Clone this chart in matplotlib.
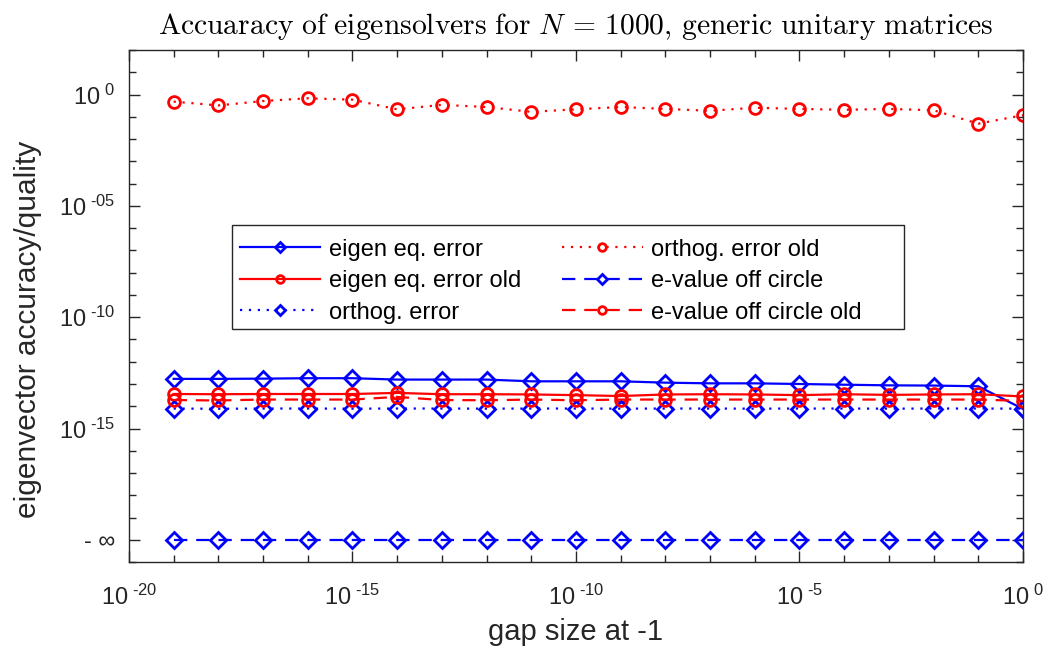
import numpy as np
import matplotlib
matplotlib.use('Agg')
import matplotlib.pyplot as plt
from matplotlib.patches import Rectangle
from matplotlib.ticker import FixedLocator, FixedFormatter, NullFormatter

plt.rcParams['font.family'] = ['Liberation Sans', 'DejaVu Sans']
plt.rcParams['mathtext.fontset'] = 'custom'
plt.rcParams['mathtext.rm'] = 'Liberation Sans'
plt.rcParams['mathtext.it'] = 'Liberation Sans:italic'

# gap size at -1
gap = [1e-19, 1e-18, 1e-17, 1e-16, 1e-15, 1e-14, 1e-13, 1e-12, 1e-11, 1e-10,
       1e-9, 1e-8, 1e-7, 1e-6, 1e-5, 1e-4, 1e-3, 1e-2, 1e-1, 1e0]

eig_err = [1.70e-13, 1.70e-13, 1.74e-13, 1.82e-13, 1.82e-13, 1.58e-13, 1.58e-13, 1.58e-13, 1.32e-13, 1.32e-13,
           1.32e-13, 1.15e-13, 1.07e-13, 1.07e-13, 1.00e-13, 9.3e-14, 8.7e-14, 8.5e-14, 7.9e-14, 7.6e-15]
eig_err_old = [3.55e-14, 3.47e-14, 3.55e-14, 3.55e-14, 3.55e-14, 3.98e-14, 3.47e-14, 3.47e-14, 3.39e-14, 3.16e-14,
               2.88e-14, 3.39e-14, 3.47e-14, 3.39e-14, 3.16e-14, 3.47e-14, 3.24e-14, 3.39e-14, 3.47e-14, 2.75e-14]
orth_err = [7.9e-15, 7.7e-15, 7.9e-15, 7.9e-15, 7.8e-15, 7.9e-15, 7.9e-15, 7.8e-15, 7.9e-15, 7.9e-15,
            7.8e-15, 7.9e-15, 7.9e-15, 7.8e-15, 7.9e-15, 7.9e-15, 7.8e-15, 7.9e-15, 7.9e-15, 7.8e-15]
orth_err_old = [0.49, 0.33, 0.52, 0.69, 0.60, 0.22, 0.35, 0.28, 0.17, 0.22,
                0.28, 0.23, 0.19, 0.26, 0.23, 0.21, 0.23, 0.20, 0.050, 0.12]
ev_off = [0.0] * 20   # exactly on the circle -> shown as -inf
ev_off_old = [1.90e-14, 1.82e-14, 2.00e-14, 2.00e-14, 2.00e-14, 2.63e-14, 1.90e-14, 1.86e-14, 2.00e-14, 1.86e-14,
              2.00e-14, 2.00e-14, 2.00e-14, 2.00e-14, 2.00e-14, 2.00e-14, 2.00e-14, 2.00e-14, 2.00e-14, 1.74e-14]

NEG_INF = 1e-20  # where zeros are drawn


def show(v):
    v = np.asarray(v, dtype=float)
    return np.where(v == 0, NEG_INF, v)


fig = plt.figure(figsize=(10.45, 6.52), dpi=100)
ax = fig.add_axes([0.1234, 0.138, 0.8555, 0.785])

lw = 1.6
dot = (0, (1, 3))
dash = (0, (6, 4))
st_d = dict(marker='D', markersize=8, markeredgewidth=2, markerfacecolor='none', lw=lw)
st_o = dict(marker='o', markersize=8.5, markeredgewidth=2, markerfacecolor='none', lw=lw)

ax.plot(gap, show(eig_err), color='blue', ls='-', label='eigen eq. error', **st_d)
ax.plot(gap, show(eig_err_old), color='red', ls='-', label='eigen eq. error old', **st_o)
ax.plot(gap, show(orth_err), color='blue', ls=dot, label='orthog. error', **st_d)
ax.plot(gap, show(orth_err_old), color='red', ls=dot, label='orthog. error old', **st_o)
ax.plot(gap, show(ev_off), color='blue', ls=dash, label='e-value off circle', **st_d)
ax.plot(gap, show(ev_off_old), color='red', ls=dash, label='e-value off circle old', **st_o)

ax.set_xscale('log')
ax.set_yscale('log')
ax.set_xlim(1e-20, 1e0)
ax.set_ylim(1e-21, 1e2)


def sup(e):
    return r'$\mathrm{10}^{\ \text{' + e + '}}$'


xt = [1e-20, 1e-15, 1e-10, 1e-5, 1e0]
xl = [sup('-20'), sup('-15'), sup('-10'), sup('-5'), sup('0')]
yt = [1e-20, 1e-15, 1e-10, 1e-5, 1e0]
yl = ['- \u221e', sup('-15'), sup('-10'), sup('-05'), sup('0')]
ax.xaxis.set_major_locator(FixedLocator(xt))
ax.xaxis.set_major_formatter(FixedFormatter(xl))
ax.xaxis.set_minor_locator(FixedLocator([10.0 ** k for k in range(-20, 1)]))
ax.yaxis.set_major_locator(FixedLocator(yt))
ax.yaxis.set_major_formatter(FixedFormatter(yl))
ax.yaxis.set_minor_locator(FixedLocator([10.0 ** k for k in range(-21, 3)]))
ax.xaxis.set_minor_formatter(NullFormatter())
ax.yaxis.set_minor_formatter(NullFormatter())

gc = '#262626'
ax.tick_params(which='both', direction='in', top=True, right=True, colors=gc, labelsize=17, width=1)
ax.tick_params(which='major', length=8)
ax.tick_params(which='minor', length=5)
ax.tick_params(axis='x', which='major', pad=16)
ax.tick_params(axis='y', which='major', pad=10)
for s in ax.spines.values():
    s.set_color(gc)
    s.set_linewidth(1)

ax.set_xlabel('gap size at -1', fontsize=21, color=gc, labelpad=6)
ax.set_ylabel('eigenvector accuracy/quality', fontsize=21.5, color=gc)
ax.yaxis.set_label_coords(-0.0973, 0.455)
ax.set_title(r'$\mathrm{Accuaracy\ of\ eigensolvers\ for\ }N\,=\,1000\mathrm{,\,generic\ unitary\ matrices}$',
             fontsize=21.3, math_fontfamily='cm', pad=12)

leg = ax.legend(ncol=2, loc='upper left', bbox_to_anchor=(0.1165, 0.6455), borderaxespad=0,
                fontsize=17, handlelength=3.4, markerscale=0.65, frameon=False,
                labelspacing=0.4, columnspacing=1.75, handletextpad=0.35, borderpad=0.3)
# MATLAB style legend box (wider on the right than the text)
ax.add_patch(Rectangle(((232 - 129) / 894, (562 - 329) / 512), (904 - 232) / 894, (329 - 225) / 512,
                       transform=ax.transAxes, facecolor='white', edgecolor=gc, lw=1, zorder=4.5))
leg.set_zorder(5)

fig.savefig('out.png', dpi=100)
